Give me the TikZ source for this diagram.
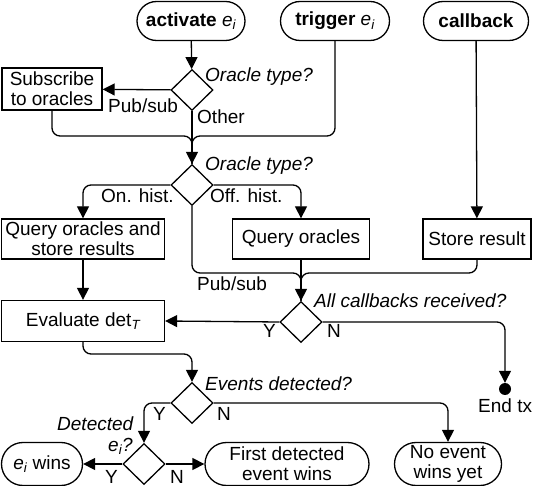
\documentclass[tikz,border=0pt]{standalone}
\usepackage{fontspec}
\setmainfont{Liberation Sans}
\usetikzlibrary{positioning,shapes.geometric,shapes.misc,arrows.meta}
\tikzset{
		edgeStyle/.style = {line width = 1.3pt, rounded corners = 8pt, -{Triangle[length=12pt,width=12pt]}},
		lineStyle/.style = {line width = 1.3pt, rounded corners = 8pt},
		pill/.style =      {rounded rectangle, draw, line width = 1.3pt, inner sep=0pt, align=center},
		box/.style =       {rectangle, draw, line width = 1.3pt, inner sep=0pt, align=center},
		decision/.style =  {diamond, draw, line width = 1.3pt, inner sep=0pt, minimum width=42pt, minimum height=41pt},
		question/.style =  {anchor=base west, inner sep=0pt, font=\fontsize{19}{20}\selectfont\itshape},
		branch/.style =    {anchor=base west, inner sep=0pt},
		every node/.style = {font=\fontsize{19}{20}\selectfont}
}
\newcommand\ei{{\itshape e\textsubscript{i}}}

\begin{document}
\begin{tikzpicture}[x=1pt,y=-1pt]
  \useasboundingbox (0,0) rectangle (533,486);

  % Start nodes
  \node [pill, minimum width=108pt, minimum height=39pt] (act)  at (191,21) {\textbf{activate} \ei};
  \node [pill, minimum width=109pt, minimum height=39pt] (trig) at (335,21) {\textbf{trigger} \ei};
  \node [pill, minimum width=105pt, minimum height=39pt] (cb)   at (476,21) {\textbf{callback}};

  % Decisions
  \node [decision] (d1) at (192,90) {};
  \node [decision] (d2) at (192,185) {};
  \node [decision] (d3) at (301,322) {};
  \node [decision] (d4) at (192,403) {};
  \node [decision] (d5) at (144,464) {};

  % Boxes
  \node [box, minimum width=100pt, minimum height=42pt] (sub) at (52,89)   {Subscribe\\to oracles};
  \node [box, minimum width=163pt, minimum height=40pt] (q1)  at (83,239)  {Query oracles and\\store results};
  \node [box, minimum width=137pt, minimum height=40pt] (q2)  at (301,239) {Query oracles};
  \node [box, minimum width=108pt, minimum height=40pt] (sr)  at (477,239) {Store result};
  \node [box, minimum width=163pt, minimum height=41pt] (ev)  at (83,321)  {Evaluate det\textsubscript{\itshape T}};

  % End nodes
  \node [pill, minimum width=81pt,  minimum height=43pt] (wins)  at (42,464)  {\ei{} wins};
  \node [pill, minimum width=164pt, minimum height=43pt] (first) at (287,464) {First detected\\event wins};
  \node [pill, minimum width=107pt, minimum height=43pt] (none)  at (448,464) {No event\\wins yet};
  \node [circle, fill, inner sep=0pt, minimum size=12pt] (endDot) at (505,389) {};
  \node [branch] (endTx) at (478,413) {End tx};

  % Merge points
  \coordinate (mergeA) at (192,136);
  \coordinate (mergeB) at (301,273);
  \coordinate (mergeC) at (192,354);

  % Connectors
  \draw [edgeStyle] (act) -- (d1);
  \draw [edgeStyle] (d1) -- (sub);
  \draw [lineStyle] (sub.south) |- (mergeA) -- (d2.north);
  \draw [lineStyle] (trig.south) |- (mergeA) -- (d2.north);
  \draw [edgeStyle] (d1.south) -- (d2.north);
  \draw [edgeStyle] (d2.west) -| (q1.north);
  \draw [edgeStyle] (d2.east) -| (q2.north);
  \draw [edgeStyle] (cb) -- (sr);
  \draw [lineStyle] (d2.south) |- (mergeB) -- (d3.north);
  \draw [lineStyle] (sr.south) |- (mergeB) -- (d3.north);
  \draw [edgeStyle] (q2.south) -- (d3.north);
  \draw [edgeStyle] (q1) -- (ev);
  \draw [edgeStyle] (d3.west) -- (ev.east);
  \draw [edgeStyle] (d3.east) -| (endDot.north);
  \draw [edgeStyle] (ev.south) |- (mergeC) -- (d4.north);
  \draw [edgeStyle] (d4.west) -| (d5.north);
  \draw [edgeStyle] (d4.east) -| (none.north);
  \draw [edgeStyle] (d5.west) -- (wins.east);
  \draw [edgeStyle] (d5.east) -- (first.west);

  % Questions and branch labels
  \node [question] (qA) at (205,82)  {Oracle type?};
  \node [question] (qB) at (205,171) {Oracle type?};
  \node [question] (qC) at (314,308) {All callbacks received?};
  \node [question] (qD) at (205,390) {Events detected?};
  \node [question] (qE) at (57,430)  {Detected};
  \node [question] (qF) at (108,451) {e\textsubscript{i}?};
  \node [branch] at (108,113) {Pub/sub};
  \node [branch] at (197,124) {Other};
  \node [branch] at (101,203) {On. hist.};
  \node [branch] at (210,203) {Off. hist.};
  \node [branch] at (197,291) {Pub/sub};
  \node [branch] at (263,338) {Y};
  \node [branch] at (327,338) {N};
  \node [branch] at (153,420) {Y};
  \node [branch] at (217,420) {N};
  \node [branch] at (105,483) {Y};
  \node [branch] at (170,483) {N};
\end{tikzpicture}
\end{document}
